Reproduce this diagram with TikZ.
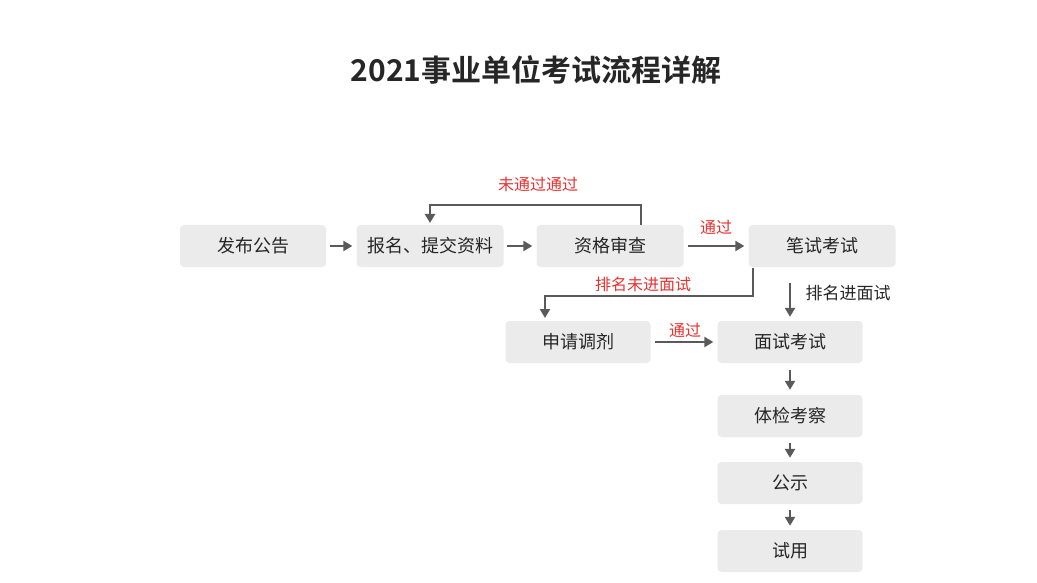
\documentclass[tikz,border=0pt]{standalone}
\usepackage{fontspec}
\setmainfont{Noto Sans CJK SC}
\newfontfamily\cjkbold{Noto Sans CJK SC Bold}
\usetikzlibrary{arrows.meta}
\definecolor{boxgray}{HTML}{EBEBEB}
\definecolor{linegray}{HTML}{5A5A5A}
\definecolor{lblred}{HTML}{E8312F}
\tikzset{
  box/.style={fill=boxgray,rounded corners=4pt,minimum width=146pt,minimum height=42pt,inner sep=0pt,font=\fontsize{18}{21}\selectfont,text=black!85},
  conn/.style={draw=linegray,line width=2.8pt,-{Triangle[length=9pt,width=10pt]}},
  redlbl/.style={text=lblred,font=\fontsize{16}{19}\selectfont},
  blklbl/.style={text=black!85,font=\fontsize{17}{20}\selectfont}
}
\begin{document}
\begin{tikzpicture}[x=1pt,y=-1pt]
\useasboundingbox (0,0) rectangle (1037,583);
\node[font=\cjkbold\fontsize{30}{34}\selectfont,text=black!85] (title) at (536,70) {2021事业单位考试流程详解};
\node[box] (a) at (253,246) {发布公告};
\node[box,minimum width=147pt] (b) at (430,246) {报名、提交资料};
\node[box,minimum width=147pt] (c) at (610,246) {资格审查};
\node[box,minimum width=147pt] (d) at (822,246) {笔试考试};
\node[box,minimum width=145pt] (e) at (578,342) {申请调剂};
\node[box,minimum width=145pt] (f) at (790,342) {面试考试};
\node[box,minimum width=145pt] (g) at (790,416) {体检考察};
\node[box,minimum width=145pt] (h) at (790,483) {公示};
\node[box,minimum width=145pt] (i) at (790,551) {试用};
\draw[conn] ([xshift=4pt]a.east) -- ([xshift=-4pt]b.west);
\draw[conn] ([xshift=3pt]b.east) -- ([xshift=-4pt]c.west);
\draw[conn] ([xshift=4pt]c.east) -- ([xshift=-4pt]d.west);
\node[redlbl] (l1) at (716,227) {通过};
\coordinate (c1) at (641,225);
\coordinate (c2) at (430,223);
\draw[conn] (c1) |- (430,205) -- (c2);
\node[redlbl] (l2) at (538,184) {未通过通过};
\coordinate (d1) at (753,268);
\coordinate (e1) at (545,318);
\draw[conn] (d1) |- (545,296) -- (e1);
\node[redlbl] (l3) at (643,284) {排名未进面试};
\coordinate (d2) at (790,283);
\draw[conn] (d2) -- ([yshift=4pt]f.north);
\node[blklbl] (l4) at (848,293) {排名进面试};
\draw[conn] ([xshift=4pt]e.east) -- ([xshift=-4pt]f.west);
\node[redlbl] (l5) at (685,330) {通过};
\draw[conn] ([yshift=-7pt]f.south) -- ([yshift=5pt]g.north);
\draw[conn] ([yshift=-6pt]g.south) -- ([yshift=4pt]h.north);
\draw[conn] ([yshift=-6pt]h.south) -- ([yshift=4pt]i.north);
\end{tikzpicture}
\end{document}
